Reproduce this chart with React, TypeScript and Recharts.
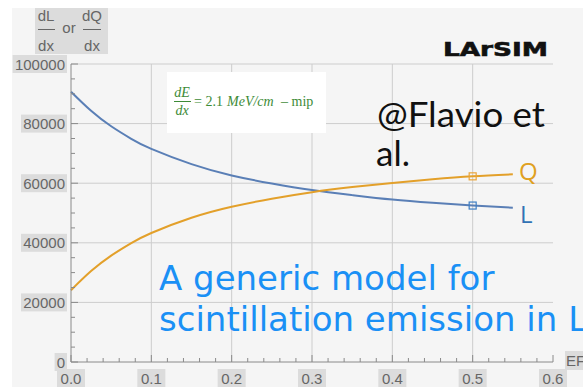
import React from 'react';
import { LineChart, Line, XAxis, YAxis, CartesianGrid } from 'recharts';

const fieldValues = [0, 0.025, 0.05, 0.075, 0.1, 0.15, 0.2, 0.25, 0.3, 0.35, 0.4, 0.45, 0.5, 0.55];
const lightYield = [90700, 84300, 79100, 74900, 71500, 66400, 62600, 59900, 57700, 56000, 54500, 53400, 52500, 51800];
const chargeYield = [24100, 30500, 35700, 39900, 43300, 48400, 52100, 54800, 57000, 58700, 60100, 61300, 62300, 63000];

const xTicks = [0, 0.02, 0.04, 0.06, 0.08, 0.1, 0.12, 0.14, 0.16, 0.18, 0.2, 0.22, 0.24, 0.26, 0.28, 0.3, 0.32, 0.34, 0.36, 0.38, 0.4, 0.42, 0.44, 0.46, 0.48, 0.5, 0.52, 0.54, 0.56, 0.58, 0.6];
const xTickLabels = ['0.0', '0.1', '0.2', '0.3', '0.4', '0.5', '0.6'];
const yTicks = [0, 5000, 10000, 15000, 20000, 25000, 30000, 35000, 40000, 45000, 50000, 55000, 60000, 65000, 70000, 75000, 80000, 85000, 90000, 95000, 100000];
const yTickLabels = ['0', '20000', '40000', '60000', '80000', '100000'];
const xGrid = [0.1, 0.2, 0.3, 0.4, 0.5];
const yGrid = [20000, 40000, 60000, 80000, 100000];
const markerX = 0.5;

const data = fieldValues.map((x, i) => ({ x, L: lightYield[i], Q: chargeYield[i] }));

const LABEL_BG = '#dcdcdc';
const LABEL_FG = '#666';
const AXIS = '#8a8a8a';
const L_COLOR = '#5a7fb6';
const Q_COLOR = '#e3a02a';

const isMajorX = (v: number) => Math.abs(v * 10 - Math.round(v * 10)) < 1e-6;
const isMajorY = (v: number) => v % 20000 === 0;

const XTick = (props: any) => {
  const { x, y, payload } = props;
  const v = payload.value as number;
  const major = isMajorX(v);
  const label = major ? xTickLabels[Math.round(v * 10)] : '';
  const w = label.length * 8 + 4;
  return (
    <g>
      <line x1={x} x2={x} y1={y} y2={y - (major ? 7 : 4)} stroke={AXIS} strokeWidth={1} />
      {major && (
        <g>
          <rect x={x - w / 2} y={y + 7} width={w} height={19} fill={LABEL_BG} />
          <text x={x} y={y + 22} textAnchor="middle" fontSize={15} fill={LABEL_FG} fontFamily="Liberation Sans, Arial, sans-serif">{label}</text>
        </g>
      )}
    </g>
  );
};

const YTick = (props: any) => {
  const { x, y, payload } = props;
  const v = payload.value as number;
  const major = isMajorY(v);
  const label = major ? yTickLabels[Math.round(v / 20000)] : '';
  const w = label.length * 8.4 + 4;
  return (
    <g>
      <line x1={x} x2={x + (major ? 7 : 4)} y1={y} y2={y} stroke={AXIS} strokeWidth={1} />
      {major && (
        <g>
          <rect x={x - 4 - w} y={y - 9} width={w} height={18} fill={LABEL_BG} />
          <text x={x - 6} y={y + 5.5} textAnchor="end" fontSize={15} fill={LABEL_FG} fontFamily="Liberation Sans, Arial, sans-serif">{label}</text>
        </g>
      )}
    </g>
  );
};

const makeDot = (color: string) => (p: any) => {
  if (p.payload && Math.abs(p.payload.x - markerX) < 1e-9) {
    return <rect key={`m${p.index}`} x={p.cx - 3.5} y={p.cy - 3.5} width={7} height={7} fill="none" stroke={color} strokeWidth={1.2} />;
  }
  return <g key={`n${p.index}`} />;
};

export default function App() {
  return (
    <div style={{ position: 'absolute', left: 0, top: 0, width: 583, height: 387, background: '#fff', overflow: 'hidden' }}>
      <div style={{ position: 'absolute', left: 12, top: 8, right: 0, bottom: 0, background: '#f5f5f5' }} />
      <div style={{ position: 'absolute', left: 0, top: 0 }}>
        <LineChart width={583} height={387} data={data} margin={{ top: 64, right: 30, left: 0, bottom: 0 }}>
          <CartesianGrid stroke="#cdcdcd" fill="none" verticalValues={xGrid} horizontalValues={yGrid} />
          <XAxis
            dataKey="x"
            type="number"
            domain={[0, 0.6]}
            ticks={xTicks}
            interval={0}
            height={25}
            tickSize={0}
            tickMargin={0}
            tickLine={false}
            axisLine={{ stroke: AXIS }}
            tick={(p: any) => <XTick {...p} />}
          />
          <YAxis
            type="number"
            domain={[0, 100000]}
            ticks={yTicks}
            interval={0}
            width={71}
            tickSize={0}
            tickMargin={0}
            tickLine={false}
            axisLine={{ stroke: AXIS }}
            tick={(p: any) => <YTick {...p} />}
          />
          <Line dataKey="L" type="natural" stroke={L_COLOR} strokeWidth={2} dot={makeDot('#3f7fc4')} activeDot={false} isAnimationActive={false} />
          <Line dataKey="Q" type="natural" stroke={Q_COLOR} strokeWidth={2} dot={makeDot('#eaa53a')} activeDot={false} isAnimationActive={false} />
        </LineChart>
      </div>
      <svg width={583} height={387} style={{ position: 'absolute', left: 0, top: 0, pointerEvents: 'none' }}>
        <rect x={35} y={8} width={73} height={46} fill={LABEL_BG} />
        <g fontFamily="Liberation Sans, Arial, sans-serif" fontSize={15} fill={LABEL_FG}>
          <text x={46} y={21} textAnchor="middle">dL</text>
          <line x1={38} x2={55} y1={29.5} y2={29.5} stroke={LABEL_FG} strokeWidth={1} />
          <text x={46} y={51} textAnchor="middle">dx</text>
          <text x={69} y={33} textAnchor="middle">or</text>
          <text x={92} y={21} textAnchor="middle">dQ</text>
          <line x1={83} x2={101} y1={29.5} y2={29.5} stroke={LABEL_FG} strokeWidth={1} />
          <text x={92} y={51} textAnchor="middle">dx</text>
        </g>
        <rect x={565} y={351} width={20} height={19} fill={LABEL_BG} />
        <text x={566} y={366} fontSize={15} fill={LABEL_FG} fontFamily="Liberation Sans, Arial, sans-serif">EF</text>

        <text x={443} y={56} fontSize={19} fontWeight={900} fill="#111" stroke="#111" strokeWidth={0.6} fontFamily="DejaVu Sans, sans-serif" textLength={105} lengthAdjust="spacingAndGlyphs">LArSIM</text>

        <rect x={167} y={72} width={159} height={61} fill="#fff" />
        <g fill="#3d8b37" fontFamily="Liberation Serif, serif" fontSize={14}>
          <text x={182} y={96.5} textAnchor="middle" fontStyle="italic">dE</text>
          <line x1={174} x2={191} y1={101.5} y2={101.5} stroke="#3d8b37" strokeWidth={1} />
          <text x={182} y={115} textAnchor="middle" fontStyle="italic">dx</text>
          <text x={194} y={106}>= 2.1</text>
          <text x={227} y={106} fontStyle="italic">MeV/cm</text>
          <text x={281} y={106}>– mip</text>
        </g>

        <g fontFamily="Lato, 'Open Sans', sans-serif" fontSize={35} fill="#111">
          <text x={377} y={127} textLength={168} lengthAdjust="spacingAndGlyphs">@Flavio et</text>
          <text x={376} y={166}>al.</text>
        </g>

        <text x={519} y={180} fontSize={24} fill="#e0a020" fontFamily="Open Sans, sans-serif">Q</text>
        <text x={520} y={223} fontSize={24} fill="#3172b4" fontFamily="Open Sans, sans-serif">L</text>

        <g fontFamily="DejaVu Sans, sans-serif" fontSize={34} fill="#1a90f5">
          <text x={159} y={290}>A generic model for</text>
          <text x={159} y={331}>scintillation emission in LAr</text>
        </g>
      </svg>
    </div>
  );
}
